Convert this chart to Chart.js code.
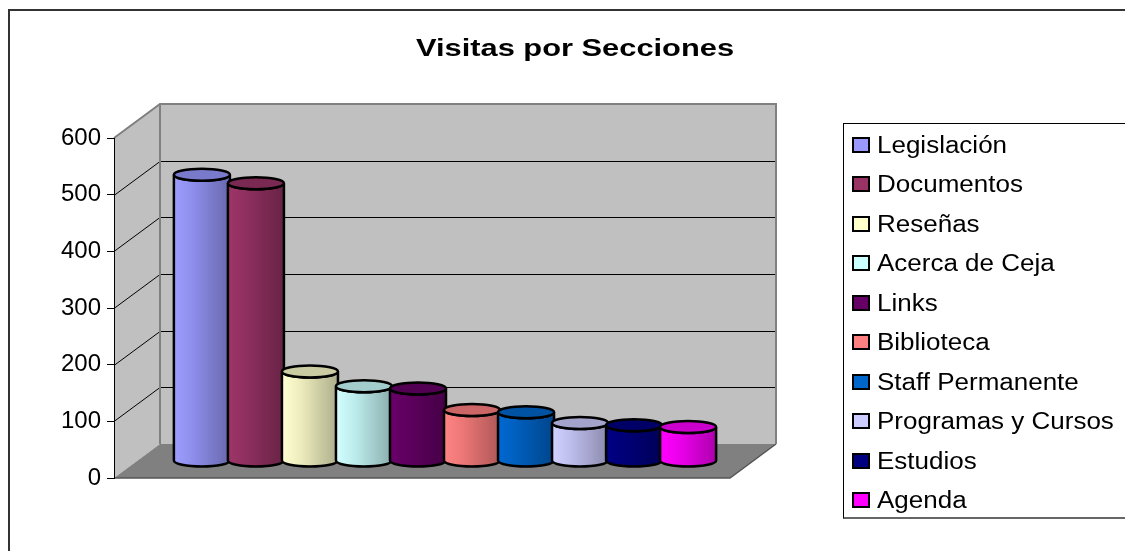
<!DOCTYPE html>
<html>
<head>
<meta charset="utf-8">
<script src="https://cdn.jsdelivr.net/npm/chart.js@4.4.1/dist/chart.umd.min.js"></script>
<style>
  html, body { margin: 0; padding: 0; background: #fff; }
  #wrap { position: relative; width: 1125px; height: 551px; overflow: hidden; }
  canvas { display: block; }
  #legend {
    position: absolute; left: 843px; top: 123px; width: 320px; height: 396px;
    border: 1px solid #000; border-bottom: 2px solid #666; box-sizing: border-box;
    font-family: 'Liberation Sans', Arial, sans-serif; font-size: 23px; color: #000;
  }
  #legend .item { position: absolute; left: 8px; height: 24px; display: flex; align-items: center; }
  #legend .sw { width: 18px; height: 16px; border: 2px solid #000; box-sizing: border-box; margin-right: 7px; }
  #legend .tx { line-height: 24px; white-space: nowrap; transform: scaleX(1.13); transform-origin: 0 50%; }
</style>
</head>
<body>
<div id="wrap">
  <canvas id="chart" width="1125" height="551"></canvas>
  <div id="legend"></div>
</div>
<script>
// datos
const SECCIONES = ['Legislación', 'Documentos', 'Reseñas', 'Acerca de Ceja', 'Links',
  'Biblioteca', 'Staff Permanente', 'Programas y Cursos', 'Estudios', 'Agenda'];
const VISITAS = [505, 490, 158, 132, 128, 90, 86, 67, 63, 60];
const COLORES = ['#9999ff', '#993366', '#ffffcc', '#ccffff', '#660066',
  '#ff8080', '#0066cc', '#ccccff', '#000080', '#ff00ff'];
const Y_MIN = 0;
const Y_MAX = 600;
const Y_STEP = 100;

// profundidad de la caja 3D (px)
const DEPTH_X = 46;
const DEPTH_Y = -34;
const TITLE_STRETCH = 1.34;

function shade(hex, f) {
  const n = parseInt(hex.slice(1), 16);
  const c = [(n >> 16) & 255, (n >> 8) & 255, n & 255].map(v => Math.max(0, Math.min(255, Math.round(v * f))));
  return `rgb(${c[0]},${c[1]},${c[2]})`;
}

const box3d = {
  id: 'box3d',
  beforeDraw(chart) {
    const { ctx, chartArea: a, scales: { y } } = chart;
    const dx = DEPTH_X, dy = DEPTH_Y;

    // texto del título ensanchado como en el original
    const t = chart.titleBlock;
    if (t && !t._stretched) {
      const orig = t.draw;
      t.draw = function (area) {
        const c = this.ctx, cx = (this.left + this.right) / 2;
        c.save();
        c.translate(cx, 0); c.scale(TITLE_STRETCH, 1); c.translate(-cx, 0);
        orig.call(this, area);
        c.restore();
      };
      t._stretched = true;
    }

    ctx.save();
    ctx.fillStyle = '#fff';
    ctx.fillRect(0, 0, chart.width, chart.height);

    // marco exterior
    ctx.strokeStyle = '#333';
    ctx.lineWidth = 2;
    ctx.beginPath();
    ctx.moveTo(9, chart.height); ctx.lineTo(9, 10); ctx.lineTo(chart.width, 10);
    ctx.stroke();

    const L = a.left, R = a.right, T = a.top, B = a.bottom;

    // paredes
    ctx.fillStyle = '#c0c0c0';
    ctx.fillRect(L + dx, T + dy, R - L, B - T);
    ctx.beginPath();
    ctx.moveTo(L, T); ctx.lineTo(L + dx, T + dy); ctx.lineTo(L + dx, B + dy); ctx.lineTo(L, B);
    ctx.closePath(); ctx.fill();

    // líneas de división
    ctx.strokeStyle = '#000';
    ctx.lineWidth = 1;
    y.ticks.forEach(tk => {
      if (tk.value <= Y_MIN || tk.value >= Y_MAX) return;
      const py = Math.round(y.getPixelForValue(tk.value)) + 0.5;
      ctx.beginPath();
      ctx.moveTo(L, py); ctx.lineTo(L + dx, py + dy); ctx.lineTo(R + dx, py + dy);
      ctx.stroke();
    });

    // piso
    ctx.fillStyle = '#808080';
    ctx.beginPath();
    ctx.moveTo(L, B); ctx.lineTo(R, B); ctx.lineTo(R + dx, B + dy); ctx.lineTo(L + dx, B + dy);
    ctx.closePath(); ctx.fill();
    ctx.strokeStyle = '#555';
    ctx.lineWidth = 1.5;
    ctx.beginPath();
    ctx.moveTo(L, B); ctx.lineTo(R, B); ctx.lineTo(R + dx, B + dy);
    ctx.stroke();

    // bordes grises de las paredes
    ctx.strokeStyle = '#808080';
    ctx.lineWidth = 2;
    ctx.beginPath();
    ctx.moveTo(L, T); ctx.lineTo(L + dx, T + dy); ctx.lineTo(R + dx, T + dy); ctx.lineTo(R + dx, B + dy);
    ctx.moveTo(L + dx, T + dy); ctx.lineTo(L + dx, B + dy);
    ctx.stroke();
    ctx.restore();
  },
  beforeDatasetsDraw(chart) {
    const { ctx } = chart;
    const ox = DEPTH_X / 2, oy = DEPTH_Y / 2;
    ctx.save();
    chart.data.datasets.forEach((ds, i) => {
      const meta = chart.getDatasetMeta(i);
      if (meta.hidden) return;
      meta.data.forEach(bar => {
        const cx = bar.x + ox;
        const rx = bar.width / 2 + 1;
        const ry = 6;
        const yTop = bar.y + oy;
        const yBase = bar.base + oy;
        const xl = cx - rx, xr = cx + rx;
        const base = ds.backgroundColor;

        const g = ctx.createLinearGradient(xl, 0, xr, 0);
        g.addColorStop(0, shade(base, 1.03));
        g.addColorStop(0.35, shade(base, 0.92));
        g.addColorStop(1, shade(base, 0.68));

        ctx.beginPath();
        ctx.moveTo(xl, yTop);
        ctx.lineTo(xl, yBase);
        ctx.ellipse(cx, yBase, rx, ry, 0, Math.PI, 0, true);
        ctx.lineTo(xr, yTop);
        ctx.ellipse(cx, yTop, rx, ry, 0, 0, Math.PI, false);
        ctx.closePath();
        ctx.fillStyle = g;
        ctx.fill();
        ctx.strokeStyle = '#000';
        ctx.lineWidth = 2.5;
        ctx.stroke();

        ctx.beginPath();
        ctx.ellipse(cx, yTop, rx, ry, 0, 0, Math.PI * 2);
        ctx.fillStyle = shade(base, 0.8);
        ctx.fill();
        ctx.stroke();
      });
    });
    ctx.restore();
    return false;
  }
};

const chart = new Chart(document.getElementById('chart'), {
  type: 'bar',
  data: {
    labels: [''],
    datasets: SECCIONES.map((name, i) => ({
      label: name,
      data: [VISITAS[i]],
      backgroundColor: COLORES[i],
      borderColor: '#000',
      borderWidth: 1,
      categoryPercentage: 0.877,
      barPercentage: 1
    }))
  },
  options: {
    responsive: false,
    animation: false,
    devicePixelRatio: 1,
    layout: { padding: { left: 25, right: 0, top: 0, bottom: 73 } },
    plugins: {
      legend: { display: false },
      tooltip: { enabled: false },
      title: {
        display: true,
        text: 'Visitas por Secciones',
        color: '#000',
        font: { family: 'Liberation Sans', size: 23, weight: 'bold' },
        padding: { top: 36, bottom: 74.4 }
      }
    },
    scales: {
      x: { display: false },
      y: {
        min: Y_MIN,
        max: Y_MAX,
        ticks: {
          stepSize: Y_STEP,
          color: '#000',
          padding: 6,
          font: { family: 'Liberation Sans', size: 24 }
        },
        grid: { drawOnChartArea: false, drawTicks: true, tickLength: 7, color: '#000' },
        border: { display: true, color: '#000', width: 1 },
        afterFit(s) { s.width = 89; }
      },
      y2: {
        type: 'linear',
        position: 'right',
        display: true,
        grid: { display: false },
        border: { display: false },
        ticks: { display: false },
        afterFit(s) { s.width = 395; }
      }
    }
  },
  plugins: [box3d]
});

// leyenda con recuadro, a partir de los datasets del gráfico
const legendEl = document.getElementById('legend');
chart.data.datasets.forEach((ds, i) => {
  const item = document.createElement('div');
  item.className = 'item';
  item.style.top = (9 + i * 39.44) + 'px';
  const sw = document.createElement('span');
  sw.className = 'sw';
  sw.style.background = ds.backgroundColor;
  const tx = document.createElement('span');
  tx.className = 'tx';
  tx.textContent = ds.label;
  item.appendChild(sw);
  item.appendChild(tx);
  legendEl.appendChild(item);
});
</script>
</body>
</html>
